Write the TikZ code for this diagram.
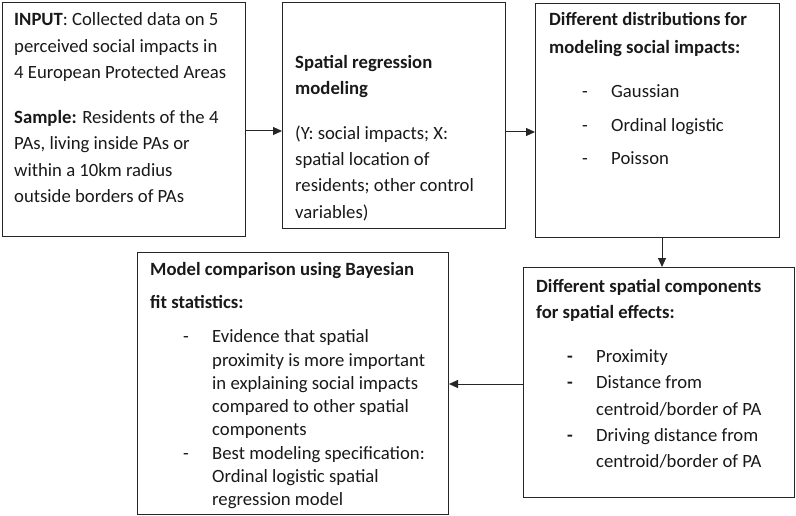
\documentclass[tikz,border=0pt]{standalone}
\usepackage{fontspec}
\setmainfont{Carlito}
\usetikzlibrary{arrows.meta}
\newcommand\bxfont[1]{\fontsize{18.7}{#1}\selectfont}
\newcommand\itm[1]{\makebox[29pt][l]{#1}}
\begin{document}
\begin{tikzpicture}[x=1pt,y=-1pt,
  box/.style={draw=black!85,line width=1pt,inner sep=0pt,anchor=north west},
  txt/.style={inner sep=0pt,anchor=north west,align=left,text=black!90},
  arr/.style={draw=black!85,line width=1pt,-{Triangle[length=9pt,width=8pt]}}]
\useasboundingbox (0,0) rectangle (796,516);
% boxes
\node[box,minimum width=243pt,minimum height=234pt] (b1) at (2,2) {};
\node[box,minimum width=223pt,minimum height=226pt] (b2) at (282,2) {};
\node[box,minimum width=244pt,minimum height=234pt] (b3) at (535,3) {};
\node[box,minimum width=271pt,minimum height=230pt] (b4) at (523,267) {};
\node[box,minimum width=311pt,minimum height=262pt] (b5) at (137,252) {};
% texts
\node[txt,font=\bxfont{26.5}] (t1) at (14,7)
  {\strut\textbf{INPUT}: Collected data on 5\\
   perceived social impacts in\\
   4 European Protected Areas\\[18pt]
   \textbf{Sample:} Residents of the 4\\
   PAs, living inside PAs or\\
   within a 10km radius\\
   outside borders of PAs};
\node[txt,font=\bxfont{26.3}] (t2) at (295,50)
  {\strut\textbf{Spatial regression}\\
   \textbf{modeling}\\[18pt]
   (Y: social impacts; X:\\
   spatial location of\\
   residents; other control\\
   variables)};
\node[txt,font=\bxfont{28}] (t3) at (549,6)
  {\strut\textbf{Different distributions for}\\
   \textbf{modeling social impacts:}};
\node[txt,font=\bxfont{33.5}] (t3i) at (582,74)
  {\strut\itm{-}Gaussian\\
   \itm{-}Ordinal logistic\\
   \itm{-}Poisson};
\node[txt,font=\bxfont{26}] (t4) at (536,274.3)
  {\strut\textbf{Different spatial components}\\
   \textbf{for spatial effects:}};
\node[txt,font=\bxfont{26.3}] (t4i) at (567,344)
  {\strut\itm{\textbf{-}}Proximity\\
   \itm{\textbf{-}}Distance from\\
   \itm{}centroid/border of PA\\
   \itm{\textbf{-}}Driving distance from\\
   \itm{}centroid/border of PA};
\node[txt,font=\bxfont{33}] (t5) at (150,252.4)
  {\strut\textbf{Model comparison using Bayesian}\\
   \textbf{fit statistics:}};
\node[txt,font=\bxfont{23.3}] (t5i) at (183,326.2)
  {\strut\itm{-}Evidence that spatial\\
   \itm{}proximity is more important\\
   \itm{}in explaining social impacts\\
   \itm{}compared to other spatial\\
   \itm{}components\\
   \itm{-}Best modeling specification:\\
   \itm{}Ordinal logistic spatial\\
   \itm{}regression model};
% connectors
\coordinate (y1) at (0,131);
\coordinate (y2) at (0,132);
\coordinate (x3) at (662,0);
\coordinate (y4) at (0,384);
\draw[arr] (b1.east |- y1) -- (b2.west |- y1);
\draw[arr] (b2.east |- y2) -- (b3.west |- y2);
\draw[arr] (b3.south -| x3) -- (b4.north -| x3);
\draw[arr] (b4.west |- y4) -- (b5.east |- y4);
\end{tikzpicture}
\end{document}
